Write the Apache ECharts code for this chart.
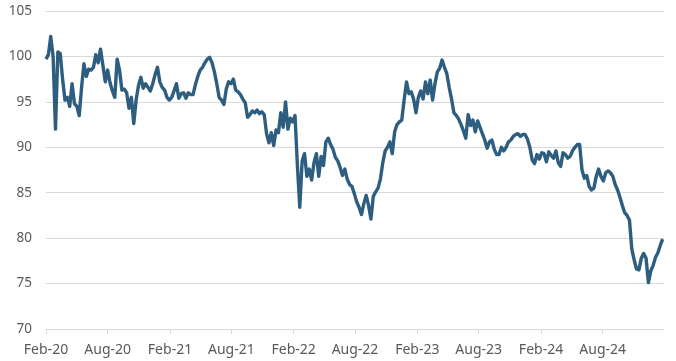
<!DOCTYPE html>
<html>
<head>
<meta charset="utf-8">
<script src="https://cdn.jsdelivr.net/npm/echarts@6/dist/echarts.min.js"></script>
<style>
html,body{margin:0;padding:0;background:#fff;}
#chart{width:676px;height:361px;}
</style>
</head>
<body>
<div id="chart"></div>
<script>
// Weekly readings starting 1 Feb 2020
var startDate = [2020, 1, 1];
var stepDays = 7;
var values = [
99.7,100.2,102.2,100.0,92.0,100.5,100.3,97.5,95.2,95.5,
94.5,97.0,94.8,94.5,93.5,96.6,99.2,97.8,98.6,98.5,
98.8,100.2,99.3,100.8,99.0,97.2,98.5,97.1,96.2,95.5,
99.7,98.5,96.3,96.4,96.0,94.3,95.5,92.6,95.2,96.8,
97.7,96.5,97.0,96.6,96.2,97.0,98.0,98.8,97.2,96.6,
96.3,95.5,95.2,95.5,96.2,97.0,95.4,95.9,96.0,95.4,
96.0,95.8,95.8,96.9,97.8,98.5,98.8,99.3,99.7,99.9,
99.3,98.3,97.0,95.5,95.2,94.7,96.4,97.2,97.0,97.5,
96.3,96.1,95.8,95.3,94.9,93.3,93.6,94.0,93.8,94.1,
93.7,93.9,93.6,91.5,90.5,91.6,90.2,91.9,91.6,93.8,
92.2,95.0,92.0,93.2,92.8,93.5,88.0,83.4,88.5,89.3,
86.8,87.6,86.4,88.3,89.3,86.8,89.0,88.0,90.6,91.0,
90.3,89.8,88.9,88.5,87.8,86.9,87.6,86.5,85.9,85.7,
84.9,84.0,83.4,82.6,83.8,84.7,83.6,82.1,84.6,85.1,
85.5,86.5,88.3,89.6,90.0,90.6,89.3,91.7,92.5,92.8,
93.0,95.2,97.2,95.9,96.1,95.3,93.8,95.5,96.2,95.3,
97.2,95.9,97.4,95.2,97.0,98.3,98.7,99.6,98.8,98.1,
96.6,95.3,93.8,93.5,93.1,92.5,91.8,91.0,93.6,92.4,
93.0,91.7,92.9,92.2,91.5,90.8,89.9,90.6,90.8,89.8,
89.2,89.2,90.0,89.6,90.0,90.6,90.8,91.2,91.4,91.5,
91.2,91.4,91.4,90.9,90.0,88.6,88.2,89.2,88.7,89.4,
89.3,88.4,89.5,89.1,88.8,89.6,88.3,87.9,89.4,89.2,
88.8,89.0,89.6,90.0,90.3,90.3,87.5,86.6,86.9,85.7,
85.3,85.5,86.8,87.6,86.8,86.3,87.2,87.4,87.2,86.8,
85.9,85.3,84.5,83.6,82.8,82.5,82.0,78.8,77.6,76.6,
76.5,77.8,78.3,77.8,75.1,76.4,77.0,77.9,78.4,79.2,
79.9
];
var tickDates = [[2020,1],[2020,7],[2021,1],[2021,7],[2022,1],[2022,7],[2023,1],[2023,7],[2024,1],[2024,7]];
var monthNames = ['Jan','Feb','Mar','Apr','May','Jun','Jul','Aug','Sep','Oct','Nov','Dec'];
var yMin = 70, yMax = 105, yStep = 5;

var DAY = 86400000;
var t0 = new Date(startDate[0], startDate[1], startDate[2]).getTime();
var seriesData = values.map(function (v, i) { return [t0 + i * stepDays * DAY, v]; });
var tickValues = tickDates.map(function (d) { return new Date(d[0], d[1], 1).getTime(); });
var xMax = new Date(2025, 0, 29).getTime();

var chart = echarts.init(document.getElementById('chart'), null, {renderer: 'canvas'});
chart.setOption({
  animation: false,
  backgroundColor: '#ffffff',
  textStyle: {fontFamily: 'Noto Sans'},
  grid: {left: 46, right: 12, top: 11, bottom: 32},
  xAxis: {
    type: 'value',
    min: t0,
    max: xMax,
    scale: true,
    axisLine: {show: true, lineStyle: {color: '#d9d9d9', width: 1}},
    axisTick: {show: true, length: 5, lineStyle: {color: '#d9d9d9'}, customValues: tickValues},
    splitLine: {show: false},
    axisLabel: {
      customValues: tickValues,
      margin: 14,
      color: '#595959',
      fontSize: 14,
      fontFamily: 'Noto Sans',
      formatter: function (val) {
        var d = new Date(val);
        return monthNames[d.getMonth()] + '-' + String(d.getFullYear()).slice(2);
      }
    }
  },
  yAxis: {
    type: 'value',
    min: yMin, max: yMax, interval: yStep,
    axisLine: {show: false},
    axisTick: {show: false},
    splitLine: {lineStyle: {color: '#d9d9d9', width: 1}},
    axisLabel: {margin: 14, color: '#595959', fontSize: 13.5, fontFamily: 'Noto Sans'}
  },
  series: [{
    type: 'line',
    data: seriesData,
    showSymbol: false,
    smooth: false,
    lineStyle: {color: '#2D5E7F', width: 3.4, join: 'round'},
    itemStyle: {color: '#2D5E7F'}
  }]
});
</script>
</body>
</html>
